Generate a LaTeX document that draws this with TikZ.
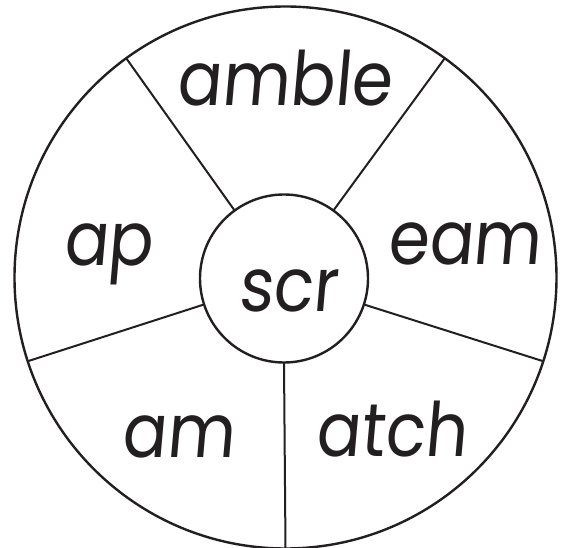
\documentclass[tikz,border=0pt]{standalone}
\usepackage{fontspec}
\setmainfont{Poppins}[FakeSlant=0.1]
\definecolor{ink}{HTML}{231F20}
\newcommand{\narrow}[1]{\scalebox{0.88}[1]{#1}}
\begin{document}
\begin{tikzpicture}[x=1pt,y=-1pt,
  ring/.style={circle,draw=ink,line width=2.4pt,inner sep=0pt,outer sep=0pt},
  spoke/.style={draw=ink,line width=2pt},
  word/.style={anchor=base,inner sep=0pt,text=ink,font=\fontsize{75}{80}\selectfont}]
\useasboundingbox (0,0) rectangle (566,548);
\node[ring,minimum size=542pt] (outer) at (285.5,277.5) {};
\node[ring,minimum size=168pt] (hub) at (284,278.5) {};
\foreach \a in {-90,-18,54,126,198}{
  \draw[spoke] (hub.\a) -- (outer.\a);
}
\node[word] (scr) at (288,312) {\narrow{scr}};
\node[word] (amble) at (284,106) {\narrow{amble}};
\node[word] (ap) at (108,266) {\narrow{ap}};
\node[word] (eam) at (464,265) {\narrow{eam}};
\node[word] (am) at (178,458) {\narrow{am}};
\node[word] (atch) at (391,457) {\narrow{atch}};
\end{tikzpicture}
\end{document}
